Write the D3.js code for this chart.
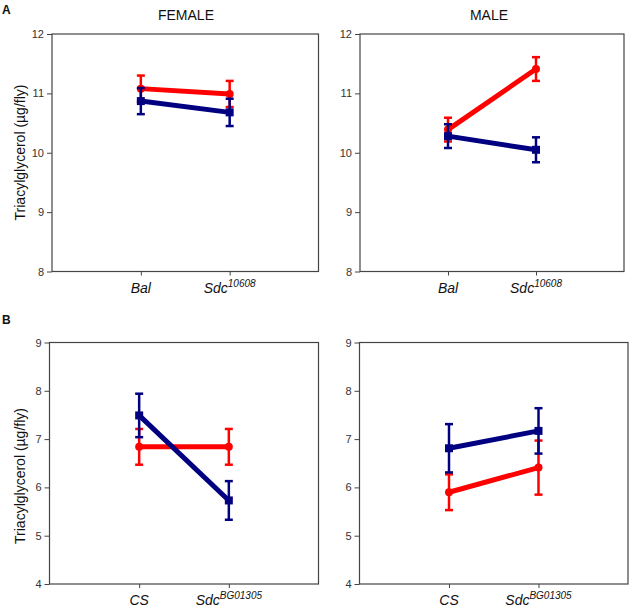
<!DOCTYPE html>
<html><head><meta charset="utf-8">
<script src="https://cdn.jsdelivr.net/npm/d3@7"></script>
<style>body{margin:0;background:#fff}svg{display:block;font-family:"Liberation Sans",Arial,sans-serif}</style>
</head><body><svg id="c" width="632" height="610"></svg>
<script>
// ---- data ----
const catsA = ["Bal", "Sdc"];
const supA = ["", "10608"];
const catsB = ["CS", "Sdc"];
const supB = ["", "BG01305"];
const ticksA = [8, 9, 10, 11, 12];
const ticksB = [4, 5, 6, 7, 8, 9];
// Panel A female
const aFemRed = [11.08, 10.99];   const aFemRedErr = [0.22, 0.22];
const aFemBlue = [10.87, 10.68]; const aFemBlueErr = [0.22, 0.23];
// Panel A male
const aMaleRed = [10.39, 11.41];  const aMaleRedErr = [0.20, 0.20];
const aMaleBlue = [10.28, 10.05]; const aMaleBlueErr = [0.20, 0.21];
// Panel B female
const bFemRed = [6.84, 6.84];   const bFemRedErr = [0.37, 0.37];
const bFemBlue = [7.49, 5.73];  const bFemBlueErr = [0.45, 0.40];
// Panel B male
const bMaleRed = [5.90, 6.41];  const bMaleRedErr = [0.37, 0.56];
const bMaleBlue = [6.81, 7.17]; const bMaleBlueErr = [0.50, 0.47];

const RED = "#ff0000", BLUE = "#000080";
const svg = d3.select("#c");

function panel(o) {
  const x = d3.scalePoint().domain(o.cats.map((c, i) => i)).range([o.left, o.right]).padding(1);
  const y = d3.scaleLinear().domain(o.domain).range([o.bottom, o.top]);
  const g = svg.append("g");
  // frame
  g.append("rect").attr("x", o.left).attr("y", o.top).attr("width", o.right - o.left).attr("height", o.bottom - o.top)
    .attr("fill", "none").attr("stroke", "#444").attr("stroke-width", 1.2);
  // y axis
  const ya = g.append("g").attr("transform", `translate(${o.left},0)`)
    .call(d3.axisLeft(y).tickValues(o.ticks).tickSize(5).tickPadding(3).tickFormat(d3.format("d")));
  ya.select(".domain").remove();
  ya.selectAll("line").attr("stroke", "#444");
  ya.selectAll("text").attr("font-size", 11).attr("fill", "#333").attr("font-family", "Liberation Sans, Arial, sans-serif");
  // x axis ticks
  const xa = g.append("g").attr("transform", `translate(0,${o.bottom})`)
    .call(d3.axisBottom(x).tickSize(4).tickFormat(""));
  xa.select(".domain").remove();
  xa.selectAll("line").attr("stroke", "#444");
  // category labels
  o.cats.forEach((c, i) => {
    const t = g.append("text").attr("x", x(i)).attr("y", o.bottom + o.labDy).attr("text-anchor", "middle")
      .attr("font-style", "italic").attr("font-size", 14).attr("fill", "#111");
    t.append("tspan").text(c);
    if (o.sups[i]) t.append("tspan").attr("font-size", 10).attr("dy", -6).text(o.sups[i]);
  });
  // series
  o.series.forEach(s => {
    const pts = s.vals.map((v, i) => ({ i, v, e: s.err[i] }));
    const sg = g.append("g");
    sg.append("path").datum(pts).attr("fill", "none").attr("stroke", s.color).attr("stroke-width", 5)
      .attr("d", d3.line().x(d => x(d.i)).y(d => y(d.v)));
    const eb = sg.selectAll(".eb").data(pts).enter().append("g");
    eb.append("line").attr("x1", d => x(d.i)).attr("x2", d => x(d.i)).attr("y1", d => y(d.v - d.e)).attr("y2", d => y(d.v + d.e))
      .attr("stroke", s.color).attr("stroke-width", 2.5);
    [-1, 1].forEach(k => eb.append("line").attr("x1", d => x(d.i) - 4).attr("x2", d => x(d.i) + 4)
      .attr("y1", d => y(d.v + k * d.e)).attr("y2", d => y(d.v + k * d.e)).attr("stroke", s.color).attr("stroke-width", 2.5));
    if (s.shape === "circle") {
      sg.selectAll(".m").data(pts).enter().append("circle").attr("cx", d => x(d.i)).attr("cy", d => y(d.v)).attr("r", 4).attr("fill", s.color);
    } else {
      sg.selectAll(".m").data(pts).enter().append("rect").attr("x", d => x(d.i) - 4).attr("y", d => y(d.v) - 4)
        .attr("width", 8).attr("height", 8).attr("fill", s.color);
    }
  });
}

panel({ left: 52, right: 318.5, top: 34, bottom: 271.5, domain: [8, 12], ticks: ticksA, cats: catsA, sups: supA, labDy: 21,
  series: [{ vals: aFemRed, err: aFemRedErr, color: RED, shape: "circle" }, { vals: aFemBlue, err: aFemBlueErr, color: BLUE, shape: "square" }] });
panel({ left: 360, right: 624, top: 34, bottom: 271.5, domain: [8, 12], ticks: ticksA, cats: catsA, sups: supA, labDy: 21,
  series: [{ vals: aMaleRed, err: aMaleRedErr, color: RED, shape: "circle" }, { vals: aMaleBlue, err: aMaleBlueErr, color: BLUE, shape: "square" }] });
panel({ left: 49.5, right: 318.5, top: 342.5, bottom: 584, domain: [4, 9], ticks: ticksB, cats: catsB, sups: supB, labDy: 21,
  series: [{ vals: bFemRed, err: bFemRedErr, color: RED, shape: "circle" }, { vals: bFemBlue, err: bFemBlueErr, color: BLUE, shape: "square" }] });
panel({ left: 359.5, right: 628, top: 342.5, bottom: 584, domain: [4, 9], ticks: ticksB, cats: catsB, sups: supB, labDy: 21,
  series: [{ vals: bMaleRed, err: bMaleRedErr, color: RED, shape: "circle" }, { vals: bMaleBlue, err: bMaleBlueErr, color: BLUE, shape: "square" }] });

// titles & labels
svg.append("text").attr("x", 186).attr("y", 20).attr("text-anchor", "middle").attr("font-size", 14).attr("fill", "#111").text("FEMALE");
svg.append("text").attr("x", 489).attr("y", 20).attr("text-anchor", "middle").attr("font-size", 14).attr("fill", "#111").text("MALE");
svg.append("text").attr("x", 2).attr("y", 14).attr("font-size", 12).attr("font-weight", "bold").attr("fill", "#111").text("A");
svg.append("text").attr("x", 2).attr("y", 324).attr("font-size", 12).attr("font-weight", "bold").attr("fill", "#111").text("B");
[[152.5], [476]].forEach(([cy]) => {
  svg.append("text").attr("transform", `translate(25,${cy}) rotate(-90)`).attr("text-anchor", "middle")
    .attr("font-size", 14).attr("fill", "#111").text("Triacylglycerol (\u00b5g/fly)");
});
</script></body></html>
